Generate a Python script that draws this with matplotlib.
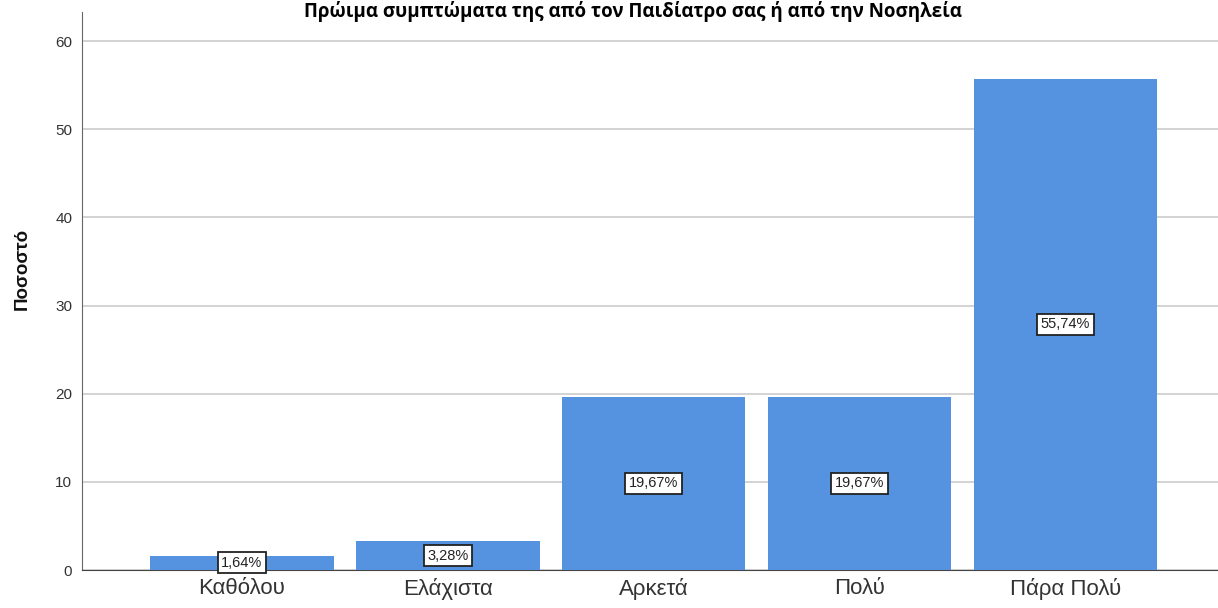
import matplotlib.pyplot as plt

categories = ['Καθόλου', 'Ελάχιστα', 'Αρκετά', 'Πολύ', 'Πάρα Πολύ']
percent = [1.64, 3.28, 19.67, 19.67, 55.74]
labels = ['1,64%', '3,28%', '19,67%', '19,67%', '55,74%']
title = 'Πρώιμα συμπτώματα της από τον Παιδίατρο σας ή από την Νοσηλεία'

plt.rcParams['font.family'] = ['Liberation Sans', 'DejaVu Sans']

fig = plt.figure(figsize=(12.18, 6.08), dpi=100)
ax = fig.add_axes([0.0673, 0.0625, 0.9327, 0.9177])

x = range(len(categories))
ax.bar(x, percent, width=0.89, color='#5592e0', zorder=3)

# ετικέτες στη μέση κάθε στήλης
for i in x:
    ax.text(i, percent[i] / 2, labels[i], ha='center', va='center', fontsize=10.5,
            color='#222222', zorder=4,
            bbox=dict(boxstyle='square,pad=0.25', fc='white', ec='#222222', lw=1.3))

ax.set_xlim(-0.777, 4.74)
ax.set_ylim(0, 63.3)
ax.set_yticks([0, 10, 20, 30, 40, 50, 60])
ax.set_xticks(list(x))
ax.set_xticklabels(categories, fontsize=16, color='#333333')
ax.tick_params(axis='y', length=0, labelsize=11, colors='#333333', pad=7)
ax.tick_params(axis='x', length=0, pad=6)
ax.grid(axis='y', color='#cccccc', lw=1.2, zorder=0)

for s in ['top', 'right']:
    ax.spines[s].set_visible(False)
ax.spines['left'].set_color('#666666')
ax.spines['bottom'].set_color('#444444')

ax.set_ylabel('Ποσοστό', fontsize=13.5, fontweight='bold', color='#111111')
ax.yaxis.set_label_coords(-0.045, 0.54)

fig.text(0.52, 0.999, title, ha='center', va='top', fontsize=13.5, fontweight='bold',
         family=['Open Sans', 'DejaVu Sans'])

fig.savefig('out.png', dpi=100)
